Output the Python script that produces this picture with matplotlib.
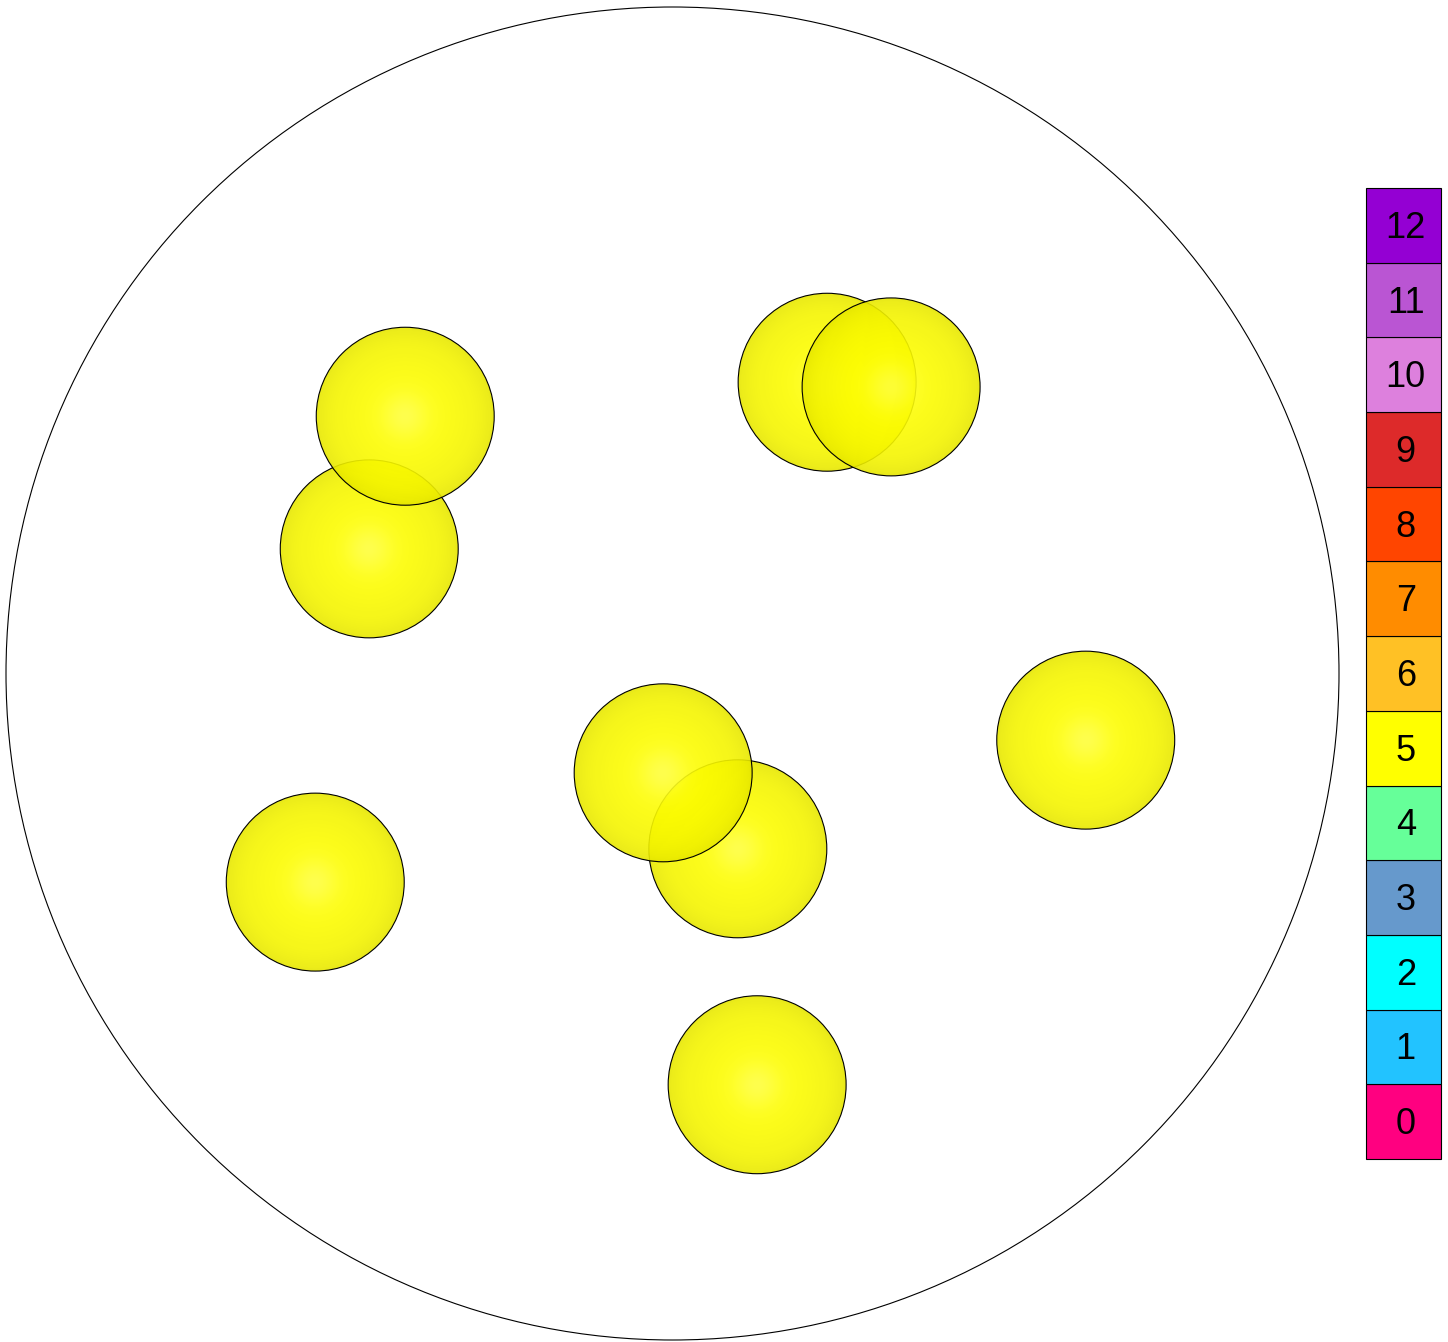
import numpy as np
import matplotlib
matplotlib.use("Agg")
import matplotlib.pyplot as plt
from matplotlib.patches import Circle, Rectangle

# particle positions in units of the container (container radius = 10)
sphere_x = [-4.55, -4.01, 2.32, 3.28, 0.98, -0.14, 6.20, -5.36, 1.27]
sphere_y = [1.87, 3.86, 4.37, 4.30, -2.63, -1.49, -1.00, -3.13, -6.17]
sphere_r = [1.335, 1.335, 1.335, 1.335, 1.335, 1.335, 1.335, 1.335, 1.335]
sphere_cls = [5, 5, 5, 5, 5, 5, 5, 5, 5]
container_r = 10.0

# discrete legend
class_labels = ["0", "1", "2", "3", "4", "5", "6", "7", "8", "9", "10", "11", "12"]
class_colors = ["#ff0080", "#22c3ff", "#00ffff", "#6699cc", "#66ff99", "#ffff00",
                "#ffc125", "#ff8c00", "#ff4500", "#dd2a2a", "#dd80dd", "#ba55d3",
                "#9400d3"]

W, H = 1448, 1342
scale = 66.65  # px per unit
cx, cy = 672.5, 673.5

fig = plt.figure(figsize=(W / 100, H / 100), dpi=100)
ax = fig.add_axes([0, 0, 1, 1])
ax.set_xlim(-cx / scale, (W - cx) / scale)
ax.set_ylim(-(H - cy) / scale, cy / scale)
ax.set_aspect("equal")
ax.axis("off")

ax.add_patch(Circle((0, 0), container_r, facecolor="none", edgecolor="black", lw=0.8))

n = 240
g = np.linspace(-1, 1, n)
gx, gy = np.meshgrid(g, g)
rr = np.clip(gx ** 2 + gy ** 2, 0, 1)
z = np.sqrt(1 - rr)

for x, y, r, c in zip(sphere_x, sphere_y, sphere_r, sphere_cls):
    base = np.array(matplotlib.colors.to_rgb(class_colors[c]))
    shade = 0.89 + 0.11 * z
    img = base[None, None, :] * shade[..., None]
    spec = 0.22 * z ** 30
    img = img + (1 - img) * spec[..., None]
    rgba = np.dstack([np.clip(img, 0, 1), np.full(z.shape, 0.9)])
    im = ax.imshow(rgba, extent=(x - r, x + r, y - r, y + r), origin="lower",
                   interpolation="bilinear", zorder=2)
    clip = Circle((x, y), r, transform=ax.transData)
    im.set_clip_path(clip)
    ax.add_patch(Circle((x, y), r, facecolor="none", edgecolor="black", lw=0.8, zorder=2))

cax = fig.add_axes([1366 / W, (H - 1159) / H, 75 / W, 971 / H])
cax.set_xlim(0, 1)
cax.set_ylim(0, len(class_labels))
cax.axis("off")
for i, (lab, col) in enumerate(zip(class_labels, class_colors)):
    cax.add_patch(Rectangle((0, i), 1, 1, facecolor=col, edgecolor="black", lw=0.8,
                            clip_on=False))
    cax.text(0.53, i + 0.46, lab, ha="center", va="center", fontsize=26,
             family="Liberation Sans", color="black")

fig.savefig("out.png", dpi=100)
